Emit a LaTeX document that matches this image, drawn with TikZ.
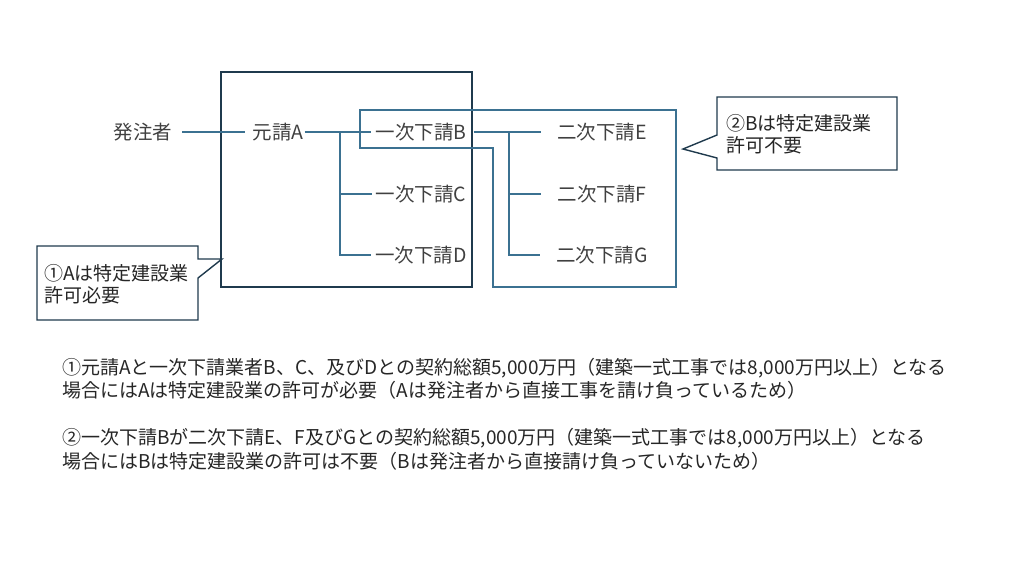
\documentclass[tikz,border=0pt]{standalone}
\usepackage{fontspec}
\setmainfont{Noto Sans CJK JP}
\definecolor{navy}{HTML}{1F3A4D}
\definecolor{steel}{HTML}{3B7191}
\tikzset{
  lbl/.style={inner sep=0pt, font=\fontsize{19.5}{22}\selectfont, text=black!75},
  wire/.style={steel, line width=1.2pt},
  note/.style={anchor=west, inner sep=0pt, font=\fontsize{19}{22}\selectfont, text=black!85}
}
\begin{document}
\begin{tikzpicture}[x=1pt, y=-1pt]
    \useasboundingbox (0,0) rectangle (1024,574);

    % frames
    \draw[navy, line width=1.4pt] (221,72) rectangle (472,287);
    \draw[wire] (360,110) -- (676,110) -- (676,287) -- (493,287) -- (493,148) -- (360,148) -- cycle;

    \node[lbl] (client) at (143,132) {発注者};
    \node[lbl] (a) at (278,132) {元請A};
    \node[lbl] (b) at (421,132) {一次下請B};
    \node[lbl] (c) at (421,194) {一次下請C};
    \node[lbl] (d) at (421,255) {一次下請D};
    \node[lbl] (e) at (602,132) {二次下請E};
    \node[lbl] (f) at (602,194) {二次下請F};
    \node[lbl] (g) at (602,255) {二次下請G};

    \coordinate (sa) at (340,132);
    \coordinate (sb) at (509,132);

    \draw[wire] ([xshift=10pt]client.east) -- ([xshift=-7pt]a.west);
    \draw[wire] ([xshift=1pt]a.east) -- ([xshift=-4pt]b.west);
    \draw[wire] (sa) |- ([xshift=-4pt]c.west);
    \draw[wire] (sa) |- ([xshift=-4pt]d.west);
    \draw[wire] ([xshift=7pt]b.east) -- ([xshift=-16pt]e.west);
    \draw[wire] (sb) |- ([xshift=-16pt]f.west);
    \draw[wire] (sb) |- ([xshift=-16pt]g.west);

    % callouts
    \draw[navy, line width=1.4pt, fill=white] (37,246) -- (198,246) -- (198,259) -- (222,259) -- (198,278) -- (198,320) -- (37,320) -- cycle;
    \node[note, align=left] (n1) at (44,284) {①Aは特定建設業\\許可必要};
    \draw[navy, line width=1.4pt, fill=white] (717,97) -- (897,97) -- (897,170) -- (717,170) -- (717,158) -- (683,149) -- (717,135) -- cycle;
    \node[note, align=left] (n2) at (726,134) {②Bは特定建設業\\許可不要};

    \node[note] (t1) at (62,368) {①元請Aと一次下請業者B、C、及びDとの契約総額5,000万円（建築一式工事では8,000万円以上）となる};
    \node[note] (t2) at (62,390) {場合にはAは特定建設業の許可が必要（Aは発注者から直接工事を請け負っているため）};
    \node[note] (t3) at (62,438) {②一次下請Bが二次下請E、F及びGとの契約総額5,000万円（建築一式工事では8,000万円以上）となる};
    \node[note] (t4) at (62,461) {場合にはBは特定建設業の許可は不要（Bは発注者から直接請け負っていないため）};
\end{tikzpicture}
\end{document}
